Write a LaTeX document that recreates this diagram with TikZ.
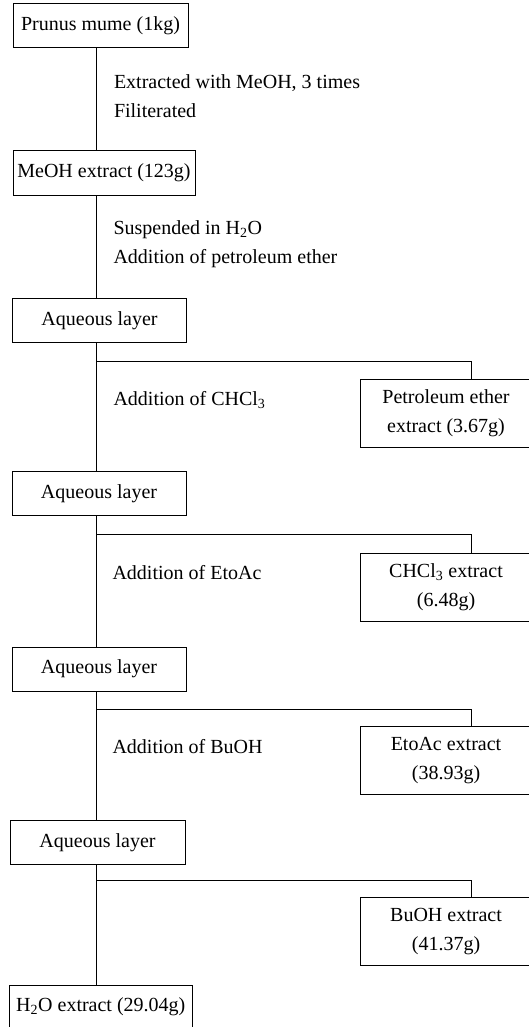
\documentclass[tikz,border=0pt]{standalone}
\usepackage{fontspec}
\setmainfont{Liberation Serif}
\begin{document}
\begin{tikzpicture}[x=1pt,y=-1pt,line width=1pt,
  font=\fontsize{20}{29}\selectfont,
  box/.style={draw,inner sep=0pt,minimum height=44pt,align=center},
  exbox/.style={draw,inner sep=0pt,minimum width=172pt,minimum height=68pt,align=center},
  note/.style={anchor=west,inner sep=0pt,align=left}]
\useasboundingbox (0,0) rectangle (529,1027);
\clip (0,0) rectangle (529,1027);
\coordinate (trunk) at (96,0);
\coordinate (drop) at (471.5,0);
% main column
\node[box,minimum width=175pt] (prunus) at (100.5,26) {Prunus mume (1kg)};
\node[box,minimum width=182pt] (meoh) at (104,173) {MeOH extract (123g)};
\node[box,minimum width=174pt] (aq1) at (99.5,320.5) {Aqueous layer};
\node[box,minimum width=174pt] (aq2) at (99,493.7) {Aqueous layer};
\node[box,minimum width=174pt] (aq3) at (99,669) {Aqueous layer};
\node[box,minimum width=175pt] (aq4) at (97.5,842.3) {Aqueous layer};
\node[box,minimum width=183pt] (water) at (100.8,1007) {H\textsubscript{2}O extract (29.04g)};
% side extracts
\node[exbox] (pet) at (446,413) {Petroleum ether\\extract (3.67g)};
\node[exbox] (chcl) at (446,587) {CHCl\textsubscript{3} extract\\(6.48g)};
\node[exbox] (etoac) at (446,760.5) {EtoAc extract\\(38.93g)};
\node[exbox] (buoh) at (446,931.5) {BuOH extract\\(41.37g)};
% notes
\node[note] (n1) at (113.5,96) {Extracted with MeOH, 3 times\\Filiterated};
\node[note] (n2) at (113,244) {Suspended in H\textsubscript{2}O\\Addition of petroleum ether};
\node[note] (n3) at (113,400) {Addition of CHCl\textsubscript{3}};
\node[note] (n4) at (112,573) {Addition of EtoAc};
\node[note] (n5) at (112,747) {Addition of BuOH};
% trunk
\draw (prunus.south -| trunk) -- (meoh.north -| trunk);
\draw (meoh.south -| trunk) -- (aq1.north -| trunk);
\draw (aq1.south -| trunk) -- (aq2.north -| trunk);
\draw (aq2.south -| trunk) -- (aq3.north -| trunk);
\draw (aq3.south -| trunk) -- (aq4.north -| trunk);
\draw (aq4.south -| trunk) -- (water.north -| trunk);
% branches
\coordinate (b1) at (96,361.7);
\coordinate (b2) at (96,534);
\coordinate (b3) at (96,709);
\coordinate (b4) at (96,880.7);
\draw (b1) -| (pet.north -| drop);
\draw (b2) -| (chcl.north -| drop);
\draw (b3) -| (etoac.north -| drop);
\draw (b4) -| (buoh.north -| drop);
\end{tikzpicture}
\end{document}
